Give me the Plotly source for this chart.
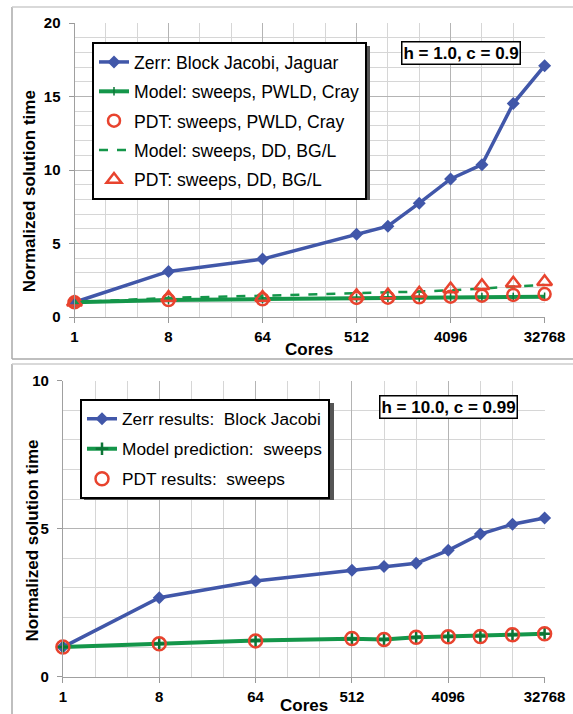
import math
import plotly.graph_objects as go

# ---------------- data ----------------
cores = [1, 8, 64, 512, 1024, 2048, 4096, 8192, 16384, 32768]
major_ticks = [1, 8, 64, 512, 4096, 32768]
major_labels = ["1", "8", "64", "512", "4096", "32768"]
minor_ticks = [2 ** k for k in range(16)]

# top panel (h = 1.0, c = 0.9)
zerr_top = [1.0, 3.1, 3.94, 5.63, 6.18, 7.74, 9.39, 10.36, 14.52, 17.1]
model_pwld_top = [1.0, 1.15, 1.22, 1.28, 1.31, 1.33, 1.35, 1.36, 1.37, 1.38]
pdt_pwld_top = [1.0, 1.15, 1.2, 1.3, 1.31, 1.34, 1.38, 1.45, 1.5, 1.56]
model_dd_top = [1.0, 1.3, 1.45, 1.6, 1.66, 1.73, 1.82, 1.93, 2.05, 2.18]
pdt_dd_top = [1.0, 1.33, 1.33, 1.45, 1.5, 1.61, 1.9, 2.13, 2.29, 2.4]

# bottom panel (h = 10.0, c = 0.99)
zerr_bot = [1.0, 2.67, 3.23, 3.6, 3.72, 3.83, 4.27, 4.82, 5.15, 5.36]
model_bot = [1.0, 1.11, 1.22, 1.28, 1.26, 1.33, 1.35, 1.37, 1.42, 1.45]
pdt_bot = [1.0, 1.11, 1.21, 1.29, 1.26, 1.33, 1.35, 1.36, 1.42, 1.45]

top_names = ["Zerr: Block Jacobi, Jaguar", "Model: sweeps, PWLD, Cray",
             "PDT: sweeps, PWLD, Cray", "Model: sweeps, DD, BG/L",
             "PDT: sweeps, DD, BG/L"]
bot_names = ["Zerr results:  Block Jacobi", "Model prediction:  sweeps",
             "PDT results:  sweeps"]
top_label = "h = 1.0, c = 0.9"
bot_label = "h = 10.0, c = 0.99"

# ---------------- style ----------------
W, H = 573, 714
FONT = "Liberation Sans, Arial, Helvetica, sans-serif"
BLUE = "#4157a9"
GREEN = "#14964a"
DGREEN = "#0c7436"
RED = "#e8432e"
GRID = "#b4b4b4"
MINOR = "#d6d6d6"

def px(x):
    return x / W

def py(y):
    return 1 - y / H

fig = go.Figure()

def blue_trace(x, y, name, xa, ya, leg):
    return go.Scatter(x=x, y=y, name=name, xaxis=xa, yaxis=ya, legend=leg,
                      legendgroup=name, mode="lines+markers", cliponaxis=False,
                      line=dict(color=BLUE, width=3.5),
                      marker=dict(symbol="diamond", size=10, color=BLUE))

# top panel traces
fig.add_trace(blue_trace(cores, zerr_top, top_names[0], "x", "y", "legend"))
fig.add_trace(go.Scatter(x=cores, y=model_pwld_top, name=top_names[1], xaxis="x", yaxis="y",
                         legend="legend", legendgroup=top_names[1], mode="lines+markers",
                         cliponaxis=False, line=dict(color=GREEN, width=4),
                         marker=dict(symbol="line-ns-open", size=6, color=DGREEN,
                                     line=dict(color=DGREEN, width=1.5))))
fig.add_trace(go.Scatter(x=cores, y=pdt_pwld_top, name=top_names[2], xaxis="x", yaxis="y",
                         legend="legend", legendgroup=top_names[2], mode="markers",
                         cliponaxis=False,
                         marker=dict(symbol="circle-open", size=12, color=RED,
                                     line=dict(color=RED, width=2.5))))
fig.add_trace(go.Scatter(x=cores, y=model_dd_top, name=top_names[3], xaxis="x", yaxis="y",
                         legend="legend", legendgroup=top_names[3], mode="lines",
                         cliponaxis=False, line=dict(color=GREEN, width=2.5, dash="dash")))
fig.add_trace(go.Scatter(x=cores, y=pdt_dd_top, name=top_names[4], xaxis="x", yaxis="y",
                         legend="legend", legendgroup=top_names[4], mode="markers",
                         cliponaxis=False,
                         marker=dict(symbol="triangle-up-open", size=13, color=RED,
                                     line=dict(color=RED, width=2.5))))

# bottom panel traces
fig.add_trace(blue_trace(cores, zerr_bot, bot_names[0], "x2", "y2", "legend2"))
fig.add_trace(go.Scatter(x=cores, y=model_bot, name=bot_names[1], xaxis="x2", yaxis="y2",
                         legend="legend2", legendgroup=bot_names[1], mode="lines+markers",
                         cliponaxis=False, line=dict(color=GREEN, width=4),
                         marker=dict(symbol="cross-thin-open", size=9, color=DGREEN,
                                     line=dict(color=DGREEN, width=2.5))))
fig.add_trace(go.Scatter(x=cores, y=pdt_bot, name=bot_names[2], xaxis="x2", yaxis="y2",
                         legend="legend2", legendgroup=bot_names[2], mode="markers",
                         cliponaxis=False,
                         marker=dict(symbol="circle-open", size=13, color=RED,
                                     line=dict(color=RED, width=2.5))))

tickfont = dict(family=FONT, size=15, color="black", weight="bold")

def xaxis(domain, anchor):
    return dict(domain=domain, anchor=anchor, type="log", automargin=False,
                range=[0, math.log10(32768)], tickmode="array",
                tickvals=major_ticks, ticktext=major_labels, tickfont=tickfont,
                showgrid=True, gridcolor=GRID, gridwidth=1,
                minor=dict(tickmode="array", tickvals=minor_ticks, showgrid=True,
                           gridcolor=MINOR, gridwidth=1, ticks=""),
                ticks="outside", ticklen=5, tickcolor="#999999",
                showline=True, linecolor="#a0a0a0", linewidth=1,
                ticklabelstandoff=1, zeroline=False, fixedrange=True)

def yaxis(domain, anchor, top):
    return dict(domain=domain, anchor=anchor, range=[0, top], tickmode="linear",
                automargin=False, tick0=0, dtick=5, tickfont=tickfont,
                showgrid=True, gridcolor=GRID, gridwidth=1,
                minor=dict(dtick=1, showgrid=True, gridcolor=MINOR, gridwidth=1, ticks=""),
                ticks="outside", ticklen=5, tickcolor="#999999",
                showline=True, linecolor="#a0a0a0", linewidth=1,
                ticklabelstandoff=5, zeroline=False, fixedrange=True)

fig.update_layout(
    width=W, height=H, margin=dict(l=0, r=0, t=0, b=0, autoexpand=False),
    paper_bgcolor="white", plot_bgcolor="white",
    font=dict(family=FONT, color="black"),
    xaxis=xaxis([px(74.5), px(544.6)], "y"),
    yaxis=yaxis([py(317), py(23)], "x", 20),
    xaxis2=xaxis([px(62.9), px(544.6)], "y2"),
    yaxis2=yaxis([py(676.7), py(380.7)], "x2", 10),
    legend=dict(x=px(92), y=py(42), xanchor="left", yanchor="top",
                bgcolor="white", bordercolor="black", borderwidth=2,
                font=dict(family=FONT, size=17.6, color="black"),
                tracegroupgap=3.5, itemwidth=30),
    legend2=dict(x=px(80), y=py(399), xanchor="left", yanchor="top",
                 bgcolor="white", bordercolor="black", borderwidth=2,
                 font=dict(family=FONT, size=17.3, color="black"),
                 tracegroupgap=4.5, itemwidth=30),
    showlegend=True,
)

titlefont = dict(family=FONT, size=17, color="black", weight="bold")
anns = [
    dict(text="Normalized solution time", x=px(29.6), y=py(191.7), textangle=-90),
    dict(text="Normalized solution time", x=px(31.6), y=py(541), textangle=-90),
    dict(text="Cores", x=px(309), y=py(349)),
    dict(text="Cores", x=px(303.7), y=py(705)),
]
for a in anns:
    fig.add_annotation(xref="paper", yref="paper", showarrow=False,
                       xanchor="center", yanchor="middle", font=titlefont, **a)

for txt, cx, cy in [(top_label, 460.5, 53.4), (bot_label, 448.8, 406.5)]:
    fig.add_annotation(text=txt, xref="paper", yref="paper", x=px(cx), y=py(cy),
                       showarrow=False, xanchor="center", yanchor="middle",
                       font=titlefont, bgcolor="white", bordercolor="black",
                       borderwidth=1.5, borderpad=1)

# panel frames
frame = dict(color="#aaaaaa", width=1.5)
shapes = [
    dict(type="line", x0=px(12), x1=px(12), y0=py(7), y1=py(359), line=frame),
    dict(type="line", x0=px(12), x1=1, y0=py(7), y1=py(7), line=dict(color="#cccccc", width=1.5)),
    dict(type="line", x0=px(12), x1=1, y0=py(359), y1=py(359), line=frame),
    dict(type="line", x0=px(12), x1=px(12), y0=py(364), y1=0, line=frame),
    dict(type="line", x0=px(12), x1=1, y0=py(364), y1=py(364), line=dict(color="#cccccc", width=1.5)),
    # legend drop shadows
    dict(type="rect", x0=px(96), x1=px(370), y0=py(46), y1=py(200),
         fillcolor="#555555", line=dict(width=0), layer="above"),
    dict(type="rect", x0=px(84), x1=px(334), y0=py(403), y1=py(500),
         fillcolor="#555555", line=dict(width=0), layer="above"),
]
for s in shapes:
    fig.add_shape(xref="paper", yref="paper", **s)

fig.write_html("out.html", config={"displayModeBar": False},
               post_script="document.body.style.margin='0';document.body.style.overflow='hidden';")
